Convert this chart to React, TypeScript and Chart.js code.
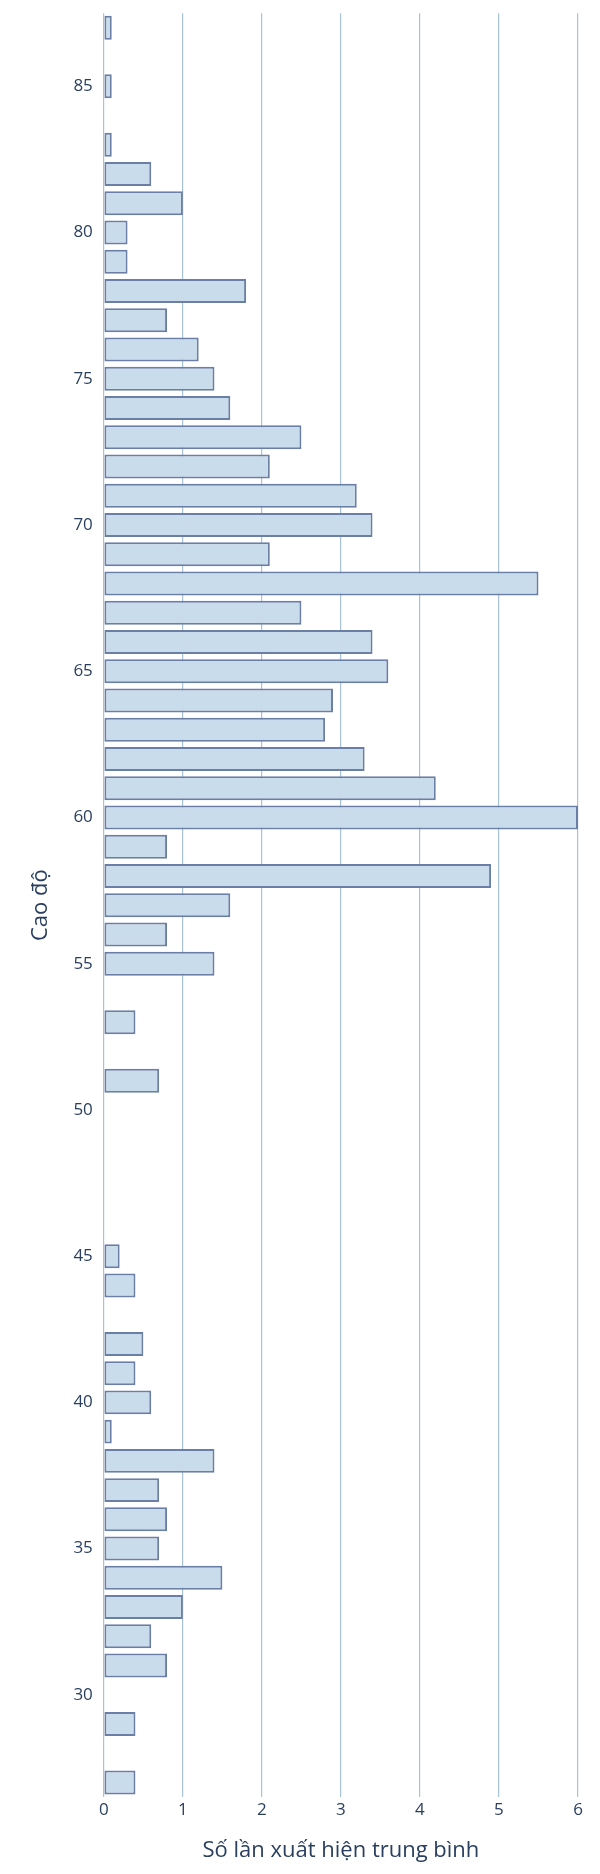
import React, { useEffect, useRef } from "react";
import { Chart, registerables } from "chart.js";
Chart.register(...registerables);

const heights = [87, 85, 83, 82, 81, 80, 79, 78, 77, 76, 75, 74, 73, 72, 71, 70, 69, 68, 67, 66, 65, 64, 63, 62, 61, 60, 59, 58, 57, 56, 55, 53, 51, 45, 44, 42, 41, 40, 39, 38, 37, 36, 35, 34, 33, 32, 31, 29, 27];
const counts = [0.1, 0.1, 0.1, 0.6, 1.0, 0.3, 0.3, 1.8, 0.8, 1.2, 1.4, 1.6, 2.5, 2.1, 3.2, 3.4, 2.1, 5.5, 2.5, 3.4, 3.6, 2.9, 2.8, 3.3, 4.2, 6.0, 0.8, 4.9, 1.6, 0.8, 1.4, 0.4, 0.7, 0.2, 0.4, 0.5, 0.4, 0.6, 0.1, 1.4, 0.7, 0.8, 0.7, 1.5, 1.0, 0.6, 0.8, 0.4, 0.4];
const xTitle = "Số lần xuất hiện trung bình";
const yTitle = "Cao độ";

export default function App() {
  const ref = useRef<HTMLCanvasElement>(null);
  useEffect(() => {
    const font = { family: "'Open Sans', 'DejaVu Sans', sans-serif" };
    const chart = new Chart(ref.current!, {
      type: "bar",
      data: {
        datasets: [{
          data: heights.map((h, i) => ({ x: counts[i], y: h })),
          backgroundColor: "rgba(200,220,235,1)",
          borderColor: "#6b7fa6",
          borderWidth: 2,
          borderSkipped: false,
          barPercentage: 0.82,
          categoryPercentage: 1,
        }],
      },
      options: {
        animation: false,
        responsive: false,
        indexAxis: "y",
        layout: { padding: { top: 10, right: 22, bottom: 6, left: 24 } },
        plugins: { legend: { display: false }, tooltip: { enabled: false } },
        scales: {
          x: {
            type: "linear", min: 0, max: 6,
            ticks: { stepSize: 1, color: "#2a3f5f", font: { ...font, size: 17 } },
            grid: { color: "#a8c2d6", lineWidth: 1.2, drawTicks: false },
            border: { display: false },
            title: { display: true, text: xTitle, color: "#2a3f5f", font: { ...font, size: 22 }, padding: { top: 14 } },
          },
          y: {
            type: "linear", min: 26.5, max: 87.5, offset: false,
            afterBuildTicks: (ax: any) => { ax.ticks = [30, 35, 40, 45, 50, 55, 60, 65, 70, 75, 80, 85].map(v => ({ value: v })); },
            ticks: { color: "#2a3f5f", font: { ...font, size: 17 } },
            grid: { display: false },
            border: { display: false },
            title: { display: true, text: yTitle, color: "#2a3f5f", font: { ...font, size: 22 }, padding: { bottom: 16 } },
          },
        },
      } as any,
    });
    return () => chart.destroy();
  }, []);
  return (
    <div style={{ position: "absolute", left: 0, top: 0, width: 600, height: 1874, background: "#fff" }}>
      <canvas ref={ref} width={600} height={1874} style={{ width: 600, height: 1874 }} />
    </div>
  );
}
